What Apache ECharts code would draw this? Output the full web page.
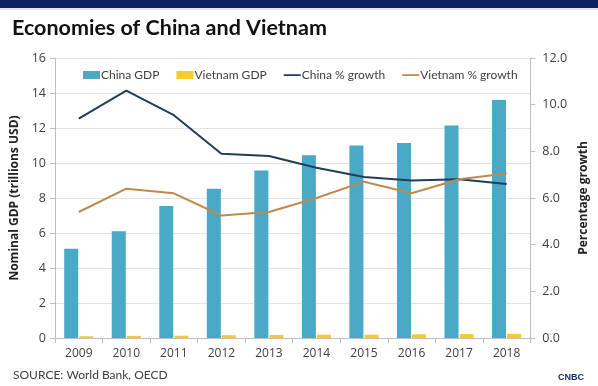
<!DOCTYPE html>
<html><head><meta charset="utf-8">
<script src="https://cdn.jsdelivr.net/npm/echarts@6/dist/echarts.min.js"></script>
<style>html,body{margin:0;padding:0;background:#fff}#c{width:598px;height:386px}</style>
</head><body><div id="c"></div>
<script>
const years = ['2009','2010','2011','2012','2013','2014','2015','2016','2017','2018'];
const chinaGDP = [5.1, 6.1, 7.55, 8.53, 9.57, 10.44, 11.0, 11.15, 12.14, 13.6];
const vietnamGDP = [0.10, 0.12, 0.13, 0.16, 0.17, 0.19, 0.19, 0.21, 0.22, 0.24];
const chinaGrowth = [9.4, 10.6, 9.55, 7.9, 7.8, 7.3, 6.9, 6.75, 6.8, 6.6];
const vietnamGrowth = [5.4, 6.4, 6.2, 5.25, 5.4, 6.0, 6.7, 6.2, 6.8, 7.05];
const leftTicks = [0,2,4,6,8,10,12,14,16];
const rightTicks = ['0.0','2.0','4.0','6.0','8.0','10.0','12.0'];

const chart = echarts.init(document.getElementById('c'));
const txt = '#404040';
const lineIcon = 'path://M0,0h0.01v0.01h-0.01zM0,3.2h17v1.8h-17zM0,8h0.01v0.01h-0.01z';
chart.setOption({
  animation: false,
  graphic: [
    {type:'rect', shape:{x:0,y:0,width:598,height:8}, style:{fill:'#0d1f5e'}},
    {type:'rect', shape:{x:0,y:8,width:598,height:2}, style:{fill:'#dfe6f0'}},
    {type:'text', left:12, top:17, style:{text:'Economies of China and Vietnam', font:'bold 21.5px Lato', fill:'#111'}},
    {type:'text', left:13, top:369, style:{text:'SOURCE: World Bank, OECD', font:'12px Lato', fill:txt}},
    {type:'text', left:558, top:373, style:{text:'CNBC', font:'bold 9px "Liberation Sans"', fill:'#1a2d6b'}}
  ],
  legend: {
    top: 64, left: 78, itemGap: 17, itemWidth: 17, itemHeight: 8,
    textStyle: {color: txt, fontSize: 12, fontFamily: 'Lato', padding:[0,0,0,-4]},
    data: [
      {name:'China GDP', icon:'rect'},
      {name:'Vietnam GDP', icon:'rect'},
      {name:'China % growth', icon: lineIcon},
      {name:'Vietnam % growth', icon: lineIcon}
    ]
  },
  grid: {left: 55, right: 57, top: 58, bottom: 48},
  xAxis: {
    type: 'category', data: years,
    axisLine: {lineStyle: {color: '#bfbfbf'}},
    axisTick: {show: true, lineStyle: {color: '#bfbfbf'}},
    axisLabel: {color: txt, fontSize: 12, fontFamily: 'Open Sans', margin: 10}
  },
  yAxis: [
    {
      type: 'value', min: 0, max: 16, interval: 2,
      name: 'Nominal GDP (trillions USD)', nameLocation: 'middle', nameGap: 27,
      nameTextStyle: {color: '#222', fontSize: 12, fontWeight: 'bold', fontFamily: 'Open Sans'},
      axisLine: {show: true, lineStyle: {color: '#bfbfbf'}},
      axisTick: {show: true, lineStyle: {color: '#bfbfbf'}},
      splitLine: {lineStyle: {color: '#e3e3e3'}},
      axisLabel: {color: txt, fontSize: 12.5, fontFamily: 'Open Sans', margin: 9,
        formatter: v => leftTicks.includes(v) ? String(v) : ''}
    },
    {
      type: 'value', min: 0, max: 12, interval: 2,
      name: 'Percentage growth', nameLocation: 'middle', nameGap: 38,
      nameTextStyle: {color: '#222', fontSize: 12, fontWeight: 'bold', fontFamily: 'Open Sans'},
      axisLine: {show: true, lineStyle: {color: '#bfbfbf'}},
      axisTick: {show: true, lineStyle: {color: '#bfbfbf'}},
      splitLine: {show: false},
      axisLabel: {color: txt, fontSize: 12.5, fontFamily: 'Open Sans', margin: 12,
        formatter: v => rightTicks[v/2]}
    }
  ],
  series: [
    {name:'China GDP', type:'bar', data: chinaGDP, barWidth: 14, barGap: '8%',
     itemStyle:{color:'#4aa9c7'}},
    {name:'Vietnam GDP', type:'bar', data: vietnamGDP, barWidth: 14,
     itemStyle:{color:'#f5cc2a'}},
    {name:'China % growth', type:'line', yAxisIndex: 1, data: chinaGrowth, symbol:'none',
     lineStyle:{color:'#243c5c', width: 2}, itemStyle:{color:'#243c5c'}},
    {name:'Vietnam % growth', type:'line', yAxisIndex: 1, data: vietnamGrowth, symbol:'none',
     lineStyle:{color:'#c08a4e', width: 2}, itemStyle:{color:'#c08a4e'}}
  ]
});
</script></body></html>
